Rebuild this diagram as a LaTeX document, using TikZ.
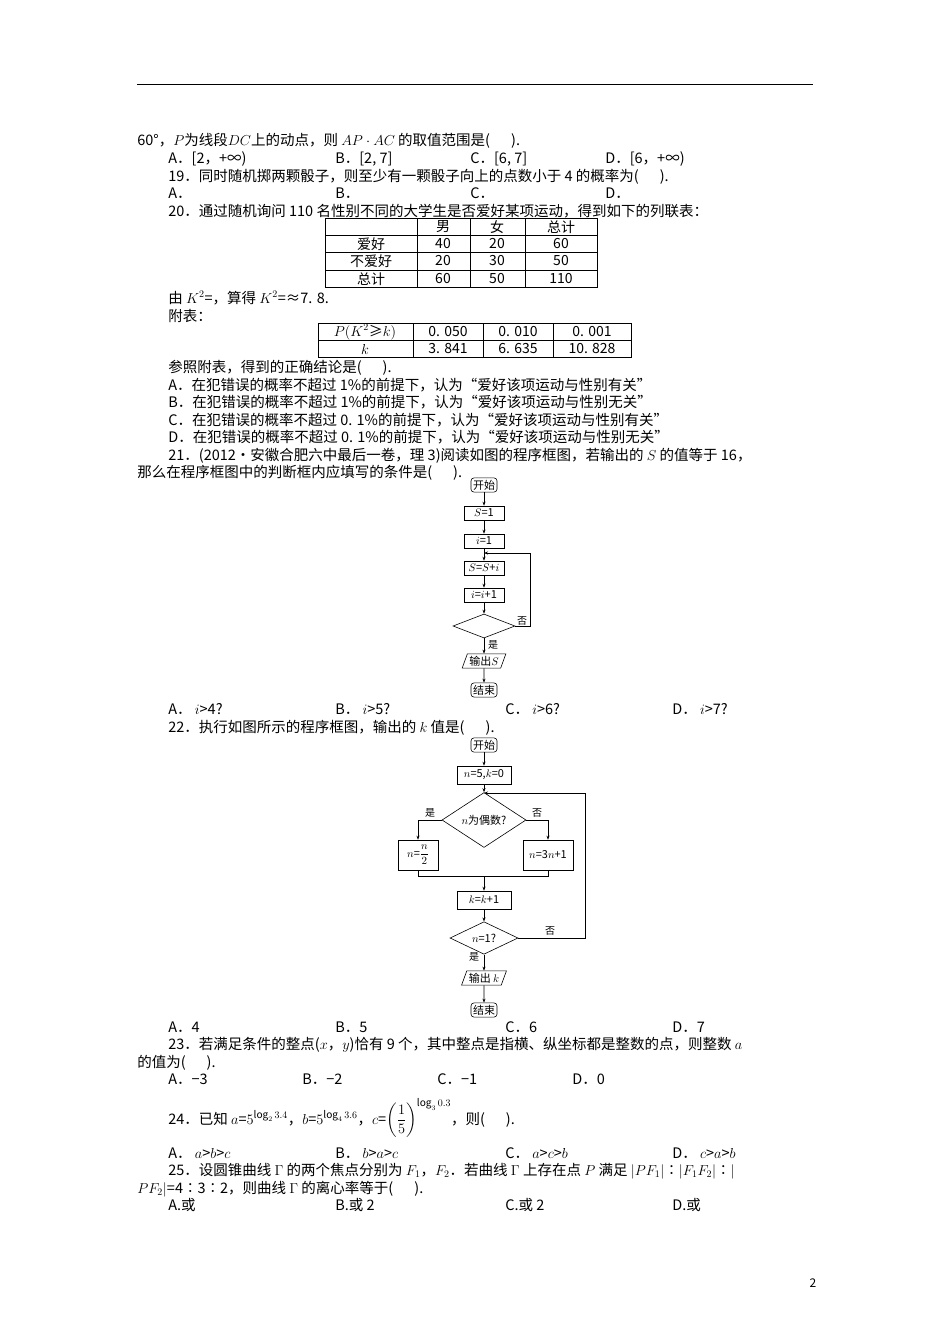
\documentclass[tikz,border=0pt]{standalone}
\usepackage{amsmath}
\usepackage{fontspec}
\setmainfont{Noto Sans CJK SC}
\usetikzlibrary{shapes.geometric,arrows.meta}
\begin{document}
\begin{tikzpicture}[x=1pt,y=-1pt,
  t/.style={anchor=base west,inner sep=0,font=\fontsize{14.5}{16}\selectfont},
  cell/.style={inner sep=0,font=\fontsize{14}{16}\selectfont},
  fb/.style={draw,inner sep=2pt,font=\fontsize{11}{13}\selectfont,minimum height=14pt},
  fr/.style={fb,rounded corners=3pt},
  fd/.style={draw,diamond,inner sep=0,font=\fontsize{11}{13}\selectfont},
  fp/.style={draw,trapezium,trapezium left angle=70,trapezium right angle=110,inner sep=2pt,font=\fontsize{11}{13}\selectfont,minimum height=14pt},
  lb/.style={inner sep=0,font=\fontsize{10}{12}\selectfont},
  ar/.style={-{Stealth[length=4pt,width=3pt]}},
  line width=0.6pt]
\useasboundingbox (0,0) rectangle (950,1344);
\fill[white] (0,0) rectangle (950,1344);
\draw[line width=0.8pt] (137,84) -- (813,84);
\node[t] (q18) at (137,145) {60°，$P$为线段$DC$上的动点，则 {\Large$AP\cdot AC$} 的取值范围是(\quad\ \ ).};
\node[t] (o18a) at (168,163) {A．[2，+∞)};
\node[t] (o18b) at (335,163) {B．[2, 7]};
\node[t] (o18c) at (470,163) {C．[6, 7]};
\node[t] (o18d) at (605,163) {D．[6，+∞)};
\node[t] (q19) at (168,181) {19．同时随机掷两颗骰子，则至少有一颗骰子向上的点数小于 4 的概率为(\quad\ \ ).};
\node[t] (o19a) at (168,198) {A．};
\node[t] (o19b) at (335,198) {B．};
\node[t] (o19c) at (470,198) {C．};
\node[t] (o19d) at (605,198) {D．};
\node[t] (q20) at (168,216) {20．通过随机询问 110 名性别不同的大学生是否爱好某项运动，得到如下的列联表：};
\draw (325,218) rectangle (597,287);
\foreach \yy in {235,252,270} \draw (325,\yy) -- (597,\yy);
\foreach \xx in {417,470,525} \draw (\xx,218) -- (\xx,287);
\node[cell] (h1) at (443,227) {男};
\node[cell] (h2) at (497,227) {女};
\node[cell] (h3) at (561,227) {总计};
\node[cell] (r1) at (371,244) {爱好};
\node[cell] (r2) at (371,261) {不爱好};
\node[cell] (r3) at (371,279) {总计};
\node[cell] (c11) at (443,244) {40};\node[cell] (c12) at (497,244) {20};\node[cell] (c13) at (561,244) {60};
\node[cell] (c21) at (443,261) {20};\node[cell] (c22) at (497,261) {30};\node[cell] (c23) at (561,261) {50};
\node[cell] (c31) at (443,279) {60};\node[cell] (c32) at (497,279) {50};\node[cell] (c33) at (561,279) {110};
\node[t] (l1) at (168,303) {由 $K^2$=，算得 $K^2$=≈7. 8.};
\node[t] (l2) at (168,321) {附表：};
\draw (318,323) rectangle (631,357);
\draw (318,340) -- (631,340);
\foreach \xx in {413,483,553} \draw (\xx,323) -- (\xx,357);
\node[cell] (p0) at (365,332) {$P(K^2$≥$k)$};
\node[cell] (p1) at (448,332) {0. 050};
\node[cell] (p2) at (518,332) {0. 010};
\node[cell] (p3) at (592,332) {0. 001};
\node[cell] (k0) at (365,349) {$k$};
\node[cell] (k1) at (448,349) {3. 841};
\node[cell] (k2) at (518,349) {6. 635};
\node[cell] (k3) at (592,349) {10. 828};
\node[t] (l3) at (168,372) {参照附表，得到的正确结论是(\quad\ \ ).};
\node[t] (o20a) at (168,390) {A．在犯错误的概率不超过 1\%的前提下，认为“爱好该项运动与性别有关”};
\node[t] (o20b) at (168,407) {B．在犯错误的概率不超过 1\%的前提下，认为“爱好该项运动与性别无关”};
\node[t] (o20c) at (168,425) {C．在犯错误的概率不超过 0. 1\%的前提下，认为“爱好该项运动与性别有关”};
\node[t] (o20d) at (168,442) {D．在犯错误的概率不超过 0. 1\%的前提下，认为“爱好该项运动与性别无关”};
\node[t] (q21) at (168,460) {21．(2012·安徽合肥六中最后一卷，理 3)阅读如图的程序框图，若输出的 $S$ 的值等于 16，};
\node[t] (q21b) at (137,477) {那么在程序框图中的判断框内应填写的条件是(\quad\ \ ).};
\node[fr] (a1) at (484,485) {开始};
\node[fb,minimum width=40pt] (a2) at (484,513) {$S$=1};
\node[fb,minimum width=40pt] (a3) at (484,541) {$i$=1};
\node[fb,minimum width=40pt] (a4) at (484,568) {$S$=$S$+$i$};
\node[fb,minimum width=40pt] (a5) at (484,595) {$i$=$i$+1};
\node[fd,minimum width=62pt,minimum height=24pt] (a6) at (484,626) {};
\node[fp] (a7) at (484,661) {输出$S$};
\node[fr] (a8) at (484,690) {结束};
\draw[ar] (a1) -- (a2);
\draw[ar] (a2) -- (a3);
\draw[ar] (a3) -- (a4);
\draw[ar] (a4) -- (a5);
\draw[ar] (a5) -- (a6);
\draw[ar] (a6) -- (a7);
\draw[ar] (a7) -- (a8);
\coordinate (j1) at (484,553);
\draw[ar] (a6.east) -- (530,626) -- (530,553) -- (j1);
\node[lb] (n1) at (522,621) {否};
\node[lb] (y1) at (493,645) {是};
\node[t] (o21a) at (168,714) {A．\ $i$>4?};
\node[t] (o21b) at (335,714) {B．\ $i$>5?};
\node[t] (o21c) at (505,714) {C．\ $i$>6?};
\node[t] (o21d) at (672,714) {D．\ $i$>7?};
\node[t] (q22) at (168,732) {22．执行如图所示的程序框图，输出的 $k$ 值是(\quad\ \ ).};
\node[fr] (b1) at (484,745) {开始};
\node[fb,minimum width=54pt,minimum height=18pt] (b2) at (484,775) {$n$=5,$k$=0};
\node[fd,minimum width=84pt,minimum height=30pt] (b3) at (484,820) {$n$为偶数?};
\node[fb,minimum width=40pt,minimum height=30pt] (b4) at (418,855) {$n$=$\dfrac{n}{2}$};
\node[fb,minimum width=50pt,minimum height=30pt] (b5) at (548,855) {$n$=3$n$+1};
\node[fb,minimum width=54pt,minimum height=18pt] (b6) at (484,900) {$k$=$k$+1};
\node[fd,minimum width=68pt,minimum height=26pt] (b7) at (484,938) {$n$=1?};
\node[fp] (b8) at (484,978) {输出 $k$};
\node[fr] (b9) at (484,1010) {结束};
\coordinate (j2) at (484,793);
\coordinate (m) at (484,876);
\draw[ar] (b1) -- (b2);
\draw[ar] (b2) -- (b3);
\draw[ar] (b3.west) -- (418,820) -- (b4);
\draw[ar] (b3.east) -- (548,820) -- (b5);
\draw (b4.south) -- (418,876) -- (548,876) -- (b5.south);
\draw[ar] (m) -- (b6);
\draw[ar] (b6) -- (b7);
\draw[ar] (b7) -- (b8);
\draw[ar] (b8) -- (b9);
\draw[ar] (b7.east) -- (585,938) -- (585,793) -- (j2);
\node[lb] (y2) at (430,813) {是};
\node[lb] (n2) at (537,813) {否};
\node[lb] (n3) at (550,931) {否};
\node[lb] (y3) at (474,957) {是};
\node[t] (o22a) at (168,1032) {A．4};
\node[t] (o22b) at (335,1032) {B．5};
\node[t] (o22c) at (505,1032) {C．6};
\node[t] (o22d) at (672,1032) {D．7};
\node[t] (q23) at (168,1049) {23．若满足条件的整点($x$，$y$)恰有 9 个，其中整点是指横、纵坐标都是整数的点，则整数 $a$};
\node[t] (q23b) at (137,1067) {的值为(\quad\ \ ).};
\node[t] (o23a) at (168,1084) {A．−3};
\node[t] (o23b) at (302,1084) {B．−2};
\node[t] (o23c) at (437,1084) {C．−1};
\node[t] (o23d) at (572,1084) {D．0};
\node[t] (q24) at (168,1124) {24．已知 $a$=$5^{\log_2 3.4}$，$b$=$5^{\log_4 3.6}$，$c$=$\left(\dfrac{1}{5}\right)^{\log_3 0.3}$，则(\quad\ \ ).};
\node[t] (o24a) at (168,1158) {A．\ $a$>$b$>$c$};
\node[t] (o24b) at (335,1158) {B．\ $b$>$a$>$c$};
\node[t] (o24c) at (505,1158) {C．\ $a$>$c$>$b$};
\node[t] (o24d) at (672,1158) {D．\ $c$>$a$>$b$};
\node[t] (q25) at (168,1175) {25．设圆锥曲线 $\Gamma$ 的两个焦点分别为 $F_1$，$F_2$．若曲线 $\Gamma$ 上存在点 $P$ 满足 $|PF_1|$∶$|F_1F_2|$∶$|$};
\node[t] (q25b) at (137,1193) {$PF_2|$=4∶3∶2，则曲线 $\Gamma$ 的离心率等于(\quad\ \ ).};
\node[t] (o25a) at (168,1210) {A.或};
\node[t] (o25b) at (335,1210) {B.或 2};
\node[t] (o25c) at (505,1210) {C.或 2};
\node[t] (o25d) at (672,1210) {D.或};
\node[inner sep=0,font=\fontsize{12}{14}\selectfont] (pg) at (813,1283) {2};
\end{tikzpicture}
\end{document}
